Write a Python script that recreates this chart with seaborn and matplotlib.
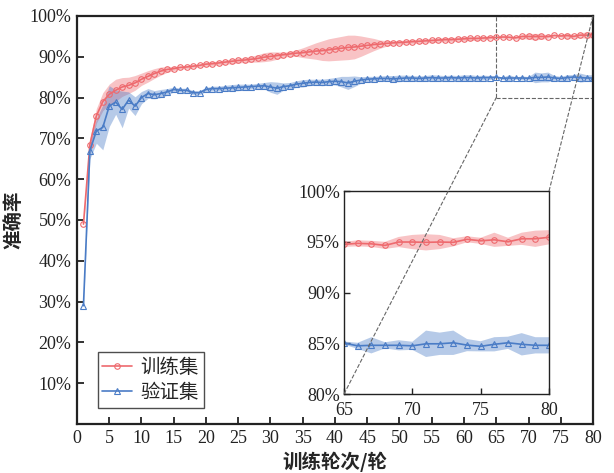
import numpy as np
import pandas as pd
import seaborn as sns
import matplotlib
matplotlib.use("Agg")
import matplotlib.pyplot as plt
from matplotlib.ticker import FuncFormatter, MultipleLocator
from mpl_toolkits.axes_grid1.inset_locator import mark_inset

# ---- data: accuracy (%) per training epoch, mean and spread ----
epochs = list(range(1, 81))

train_acc = [
    49.0, 68.5, 75.5, 79.0, 80.8, 81.8, 82.6, 83.0, 83.6, 84.5,
    85.2, 85.9, 86.5, 86.9, 87.1, 87.4, 87.5, 87.7, 87.9, 88.2,
    88.3, 88.5, 88.7, 88.9, 89.1, 89.2, 89.4, 89.6, 89.9, 90.1,
    90.3, 90.5, 90.7, 90.9, 91.0, 91.2, 91.4, 91.5, 91.7, 91.9,
    92.1, 92.3, 92.4, 92.6, 92.8, 93.0, 93.1, 93.3, 93.4, 93.5,
    93.6, 93.7, 93.8, 93.9, 94.0, 94.1, 94.2, 94.2, 94.3, 94.4,
    94.5, 94.5, 94.6, 94.7, 94.75, 94.85, 94.8, 94.65, 94.98, 94.98,
    94.95, 94.98, 94.95, 95.25, 95.1, 95.2, 95.0, 95.3, 95.3, 95.45,
]
train_std = [
    0.5, 1.5, 1.8, 2.2, 2.5, 2.7, 2.3, 2.0, 1.8, 1.5,
    1.4, 1.2, 1.0, 0.7, 0.5, 0.4, 0.4, 0.4, 0.4, 0.5,
    0.5, 0.5, 0.5, 0.6, 0.6, 0.6, 0.7, 0.9, 1.1, 1.1,
    0.9, 0.6, 0.6, 0.8, 1.2, 1.6, 2.0, 2.4, 2.7, 2.8,
    2.9, 3.0, 2.9, 2.5, 2.0, 1.5, 1.0, 0.7, 0.5, 0.5,
    0.5, 0.5, 0.5, 0.5, 0.5, 0.5, 0.5, 0.5, 0.5, 0.5,
    0.5, 0.5, 0.4, 0.4, 0.25, 0.3, 0.3, 0.35, 0.5, 0.7,
    0.8, 0.7, 0.4, 0.3, 0.3, 0.7, 0.4, 0.6, 0.8, 0.7,
]
val_acc = [
    29.0, 67.0, 71.8, 72.7, 77.9, 78.9, 77.1, 79.4, 77.9, 80.0,
    81.0, 80.7, 81.0, 81.4, 82.0, 81.8, 81.8, 81.2, 81.2, 82.0,
    82.2, 82.2, 82.3, 82.4, 82.5, 82.6, 82.7, 82.8, 82.9, 82.6,
    82.3, 82.7, 82.9, 83.3, 83.5, 83.7, 83.8, 83.7, 83.9, 84.0,
    83.9, 83.6, 84.0, 84.3, 84.5, 84.6, 84.7, 84.7, 84.6, 84.7,
    84.8, 84.8, 84.7, 84.8, 84.9, 84.8, 84.8, 84.9, 84.8, 84.9,
    84.9, 84.8, 84.9, 84.9, 85.02, 84.75, 84.8, 84.8, 84.8, 84.75,
    84.95, 84.95, 85.05, 84.82, 84.7, 84.9, 85.05, 84.9, 84.8, 84.8,
]
val_std = [
    0.5, 2.0, 3.0, 5.5, 5.0, 3.0, 4.5, 2.0, 2.3, 1.5,
    1.2, 1.0, 1.0, 0.8, 0.6, 0.5, 0.5, 0.5, 0.5, 0.5,
    0.6, 0.6, 0.7, 0.8, 0.8, 0.7, 0.6, 0.7, 0.8, 1.3,
    1.5, 0.9, 0.8, 0.8, 0.9, 0.8, 0.7, 0.8, 0.8, 0.9,
    1.3, 1.6, 1.3, 0.8, 0.7, 0.6, 0.6, 0.7, 0.8, 0.8,
    0.7, 0.6, 0.6, 0.6, 0.7, 0.7, 0.6, 0.6, 0.6, 0.7,
    0.7, 0.6, 0.6, 0.5, 0.15, 0.3, 0.8, 0.3, 0.5, 0.4,
    1.3, 1.1, 1.2, 0.6, 0.5, 0.7, 0.6, 1.1, 0.8, 0.8,
]

series_names = ["训练集", "验证集"]
x_label = "训练轮次/轮"
y_label = "准确率"

# ---- style ----
sns.set_theme(style="ticks")
plt.rcParams["font.family"] = ["Liberation Serif", "Noto Sans CJK SC"]
plt.rcParams["axes.unicode_minus"] = False
plt.rcParams["xtick.direction"] = "in"
plt.rcParams["ytick.direction"] = "in"

RED = "#EE6A6E"
BLUE = "#4A7CC6"
cjk = ["Noto Sans CJK SC", "DejaVu Sans"]

df = pd.DataFrame({
    "epoch": epochs * 2,
    "acc": train_acc + val_acc,
    "std": train_std + val_std,
    "split": [series_names[0]] * 80 + [series_names[1]] * 80,
})

styles = {
    series_names[0]: dict(color=RED, marker="o"),
    series_names[1]: dict(color=BLUE, marker="^"),
}

fig = plt.figure(figsize=(6.14, 4.73), dpi=100)
ax = fig.add_axes([0.1254, 0.1036, 0.8404, 0.8626])


def draw(target, ms):
    for name in series_names:
        sub = df[df["split"] == name]
        st = styles[name]
        target.fill_between(sub["epoch"], sub["acc"] - sub["std"], sub["acc"] + sub["std"],
                            color=st["color"], alpha=0.4, linewidth=0)
        sns.lineplot(data=sub, x="epoch", y="acc", ax=target, color=st["color"],
                     marker=st["marker"], markersize=ms, markerfacecolor="none",
                     markeredgecolor=st["color"], markeredgewidth=0.8,
                     linewidth=1.2, label=name, legend=False)


draw(ax, 4.0)

pct = FuncFormatter(lambda v, _: f"{v:.0f}%")
ax.set_xlim(0, 80)
ax.set_ylim(0, 100)
ax.xaxis.set_major_locator(MultipleLocator(5))
ax.set_yticks(np.arange(10, 101, 10))
ax.yaxis.set_major_formatter(pct)
ax.tick_params(axis="both", labelsize=13, length=5, width=1.3, colors="#222222",
               labelcolor="#222222", pad=4)
for s in ax.spines.values():
    s.set_linewidth(1.6)
    s.set_color("#222222")
ax.set_xlabel(x_label, fontsize=14, family=cjk, weight="bold", labelpad=4)
ax.set_ylabel(y_label, fontsize=14, family=cjk, weight="bold", labelpad=4)

handles, labels = ax.get_legend_handles_labels()
leg = ax.legend(handles, labels, loc="lower left", bbox_to_anchor=(0.04, 0.04),
                borderaxespad=0, fancybox=False, frameon=True, handlelength=1.5,
                prop={"family": cjk, "size": 14}, labelspacing=0.2,
                borderpad=0.25, handletextpad=0.45)
leg.get_frame().set_edgecolor("#222222")
leg.get_frame().set_linewidth(1.0)

# ---- zoomed inset for the last 15 epochs ----
axins = fig.add_axes([0.5603, 0.167, 0.3339, 0.429])
axins.set_facecolor("none")
draw(axins, 4.0)
axins.set_xlim(65, 80)
axins.set_ylim(80, 100)
axins.set_xticks([65, 70, 75, 80])
axins.set_yticks([80, 85, 90, 95, 100])
axins.yaxis.set_major_formatter(pct)
axins.set_xlabel("")
axins.set_ylabel("")
axins.tick_params(axis="both", labelsize=13, length=4, width=1.0, colors="#222222",
                  labelcolor="#222222")
axins.tick_params(axis="x", pad=6)
axins.tick_params(axis="y", pad=3)
for s in axins.spines.values():
    s.set_linewidth(1.0)
    s.set_color("#222222")

rect, c1, c2 = mark_inset(ax, axins, loc1=3, loc2=1, fc="none", ec="#666666",
                          linestyle="--", linewidth=0.8)
for c in (c1, c2):
    c.set_zorder(10)
    c.set_clip_on(False)

fig.savefig("out.png", dpi=100)
